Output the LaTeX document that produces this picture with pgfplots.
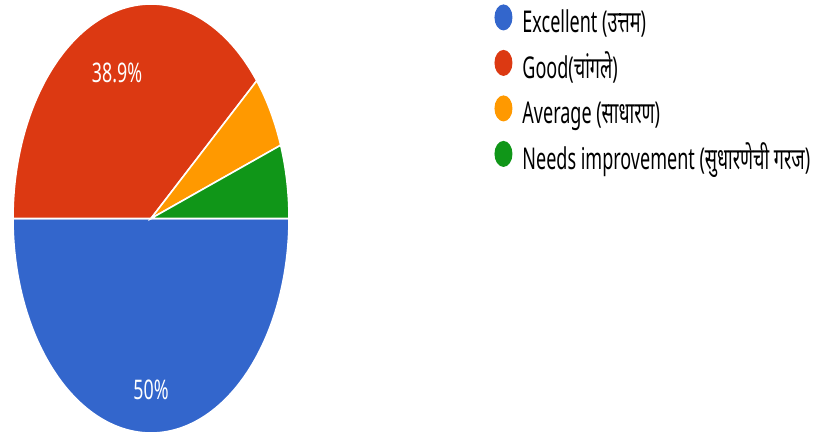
\documentclass[border=0pt]{standalone}
\usepackage{pgfplots}
\pgfplotsset{compat=1.18}
\usepackage{fontspec}
\setmainfont{Noto Sans}[FakeStretch=0.6]
\newfontfamily\deva[Script=Devanagari,FakeStretch=0.6]{Noto Sans}
\newfontfamily\lblfont[FakeStretch=0.66]{Noto Sans}
\definecolor{gblue}{HTML}{3366CC}
\definecolor{gred}{HTML}{DC3912}
\definecolor{gorange}{HTML}{FF9900}
\definecolor{ggreen}{HTML}{109618}
\begin{document}
\begin{tikzpicture}
\useasboundingbox (0,0) rectangle (411pt,218pt);
\begin{axis}[
  at={(6.5pt,1.5pt)}, anchor=south west,
  scale only axis, width=138pt, height=214.5pt,
  xmin=-1, xmax=1, ymin=-1, ymax=1,
  hide axis, clip=false,
  legend style={at={(1.743,1.0)}, anchor=north west, draw=none, fill=none,
    inner sep=0pt, row sep=5.5pt, column sep=5pt,
    font=\fontsize{15}{17}\selectfont,
    nodes={inner sep=0pt, text height=10.5pt, text depth=3pt}},
  legend cell align=left,
  legend image code/.code={\fill[#1,draw=none] (4.5pt,4pt) ellipse [x radius=4.5pt, y radius=6.5pt];},
]
% Excellent 50%: from 0 deg clockwise to -180 deg
\addplot[fill=gblue, draw=white, line width=0.8pt, domain={-3.6*50}:0, samples=120, variable=\t]
  ({cos(\t)},{sin(\t)}) -- (axis cs:0,0) -- cycle;
\addlegendentry{Excellent ({\deva उत्तम})}
% Good 38.9%
\addplot[fill=gred, draw=white, line width=0.8pt, domain={180-3.6*38.9}:180, samples=100, variable=\t]
  ({cos(\t)},{sin(\t)}) -- (axis cs:0,0) -- cycle;
\addlegendentry{Good({\deva चांगले})}
% Average 5.55%
\addplot[fill=gorange, draw=white, line width=0.8pt, domain={3.6*5.55}:{3.6*(5.55+5.55)}, samples=20, variable=\t]
  ({cos(\t)},{sin(\t)}) -- (axis cs:0,0) -- cycle;
\addlegendentry{Average ({\deva साधारण})}
% Needs improvement 5.55%
\addplot[fill=ggreen, draw=white, line width=0.8pt, domain=0:{3.6*5.55}, samples=20, variable=\t]
  ({cos(\t)},{sin(\t)}) -- (axis cs:0,0) -- cycle;
\addlegendentry{Needs improvement ({\deva सुधारणेची गरज})}
\node[text=white, font=\lblfont\fontsize{13.5}{15}\selectfont] at (axis cs:-0.246,0.679) {38.9\%};
\node[text=white, font=\lblfont\fontsize{13.5}{15}\selectfont] at (axis cs:0,-0.80) {50\%};
\end{axis}
\end{tikzpicture}
\end{document}
